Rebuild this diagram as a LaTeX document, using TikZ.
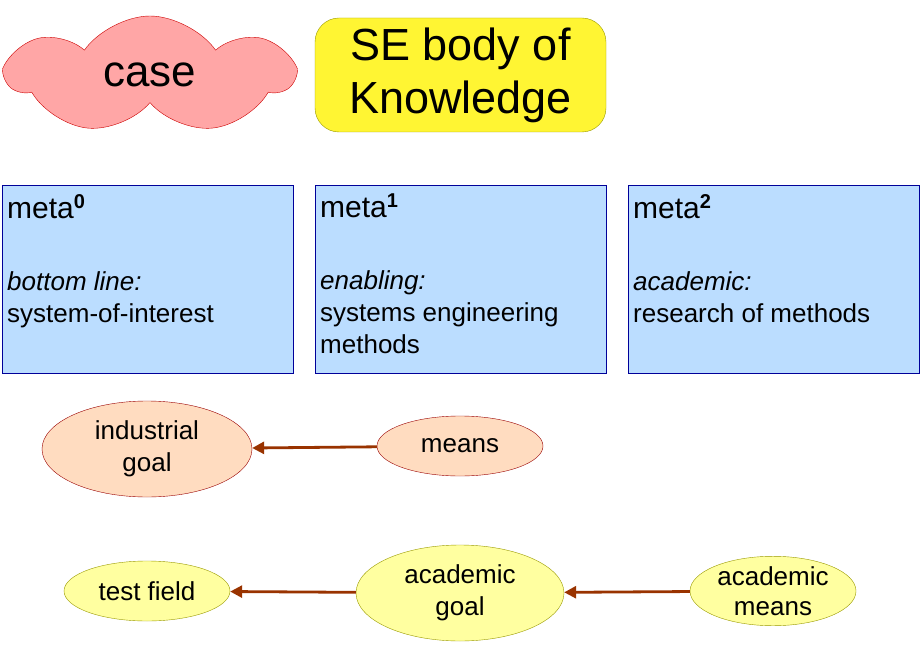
\documentclass[tikz,border=0pt]{standalone}
\usepackage{fontspec}
\setmainfont{Liberation Sans}
\usetikzlibrary{shapes.symbols,shapes.geometric,arrows.meta}
\definecolor{metafill}{HTML}{BBDDFF}
\definecolor{metaline}{HTML}{000099}
\definecolor{peach}{HTML}{FFDCC0}
\definecolor{darkred}{HTML}{990000}
\definecolor{lyellow}{HTML}{FFFFA0}
\definecolor{olive}{HTML}{999900}
\definecolor{arrowc}{HTML}{993300}
\newcommand{\mysup}[1]{\raisebox{10pt}{\textbf{\fontsize{20}{20}\selectfont #1}}}
\begin{document}
\begin{tikzpicture}[x=1pt,y=-1pt,
  meta/.style={draw=metaline,fill=metafill,minimum width=291pt,minimum height=188pt,inner sep=0pt},
  mtext/.style={anchor=north west,align=left,font=\fontsize{26}{32}\selectfont,inner sep=0pt},
  goal/.style={ellipse,draw=darkred,fill=peach,inner sep=0pt,align=center,font=\fontsize{26}{32}\selectfont},
  acad/.style={ellipse,draw=olive,fill=lyellow,inner sep=0pt,align=center,font=\fontsize{26}{32}\selectfont},
  arr/.style={draw=arrowc,line width=2.8pt,-{Triangle[length=12pt,width=12pt]}}]
\useasboundingbox (0,0) rectangle (920,660);
\node[cloud,cloud puffs=7,cloud puff arc=110,aspect=2.6,draw=red!80!black,fill=red!35,minimum width=285pt,minimum height=118pt,inner sep=0pt,font=\fontsize{44}{50}\selectfont] (case) at (150,75) {case};
\node[draw=olive,fill=yellow!80,rounded corners=24pt,minimum width=291pt,minimum height=114pt,align=center,inner sep=0pt,font=\fontsize{45}{53}\selectfont] (se) at (460.5,75) {SE body of\\Knowledge};
\node[meta] (m0) at (147.5,279) {};
\node[meta] (m1) at (460.5,279) {};
\node[meta] (m2) at (773.5,279) {};
\node[mtext] (t0) at (7,194) {\fontsize{30}{32}\selectfont meta\mysup{0}\\[40pt]\textit{bottom line:}\\system-of-interest};
\node[mtext] (t1) at (320,194) {\fontsize{30}{32}\selectfont meta\mysup{1}\\[40pt]\textit{enabling:}\\systems engineering\\methods};
\node[mtext] (t2) at (633,194) {\fontsize{30}{32}\selectfont meta\mysup{2}\\[40pt]\textit{academic:}\\research of methods};
\node[goal,minimum width=210pt,minimum height=96pt] (ig) at (147,449) {industrial\\goal};
\node[goal,minimum width=166pt,minimum height=60pt] (mn) at (460,446) {means};
\node[acad,minimum width=166pt,minimum height=60pt] (tf) at (147,591) {test field};
\node[acad,minimum width=208pt,minimum height=96pt] (ag) at (460,593) {academic\\goal};
\node[acad,minimum width=166pt,minimum height=64pt,font=\fontsize{26}{30}\selectfont] (am) at (773,591) {academic\\means};
\draw[arr] (mn) -- (ig);
\draw[arr] (ag) -- (tf);
\draw[arr] (am) -- (ag);
\end{tikzpicture}
\end{document}
